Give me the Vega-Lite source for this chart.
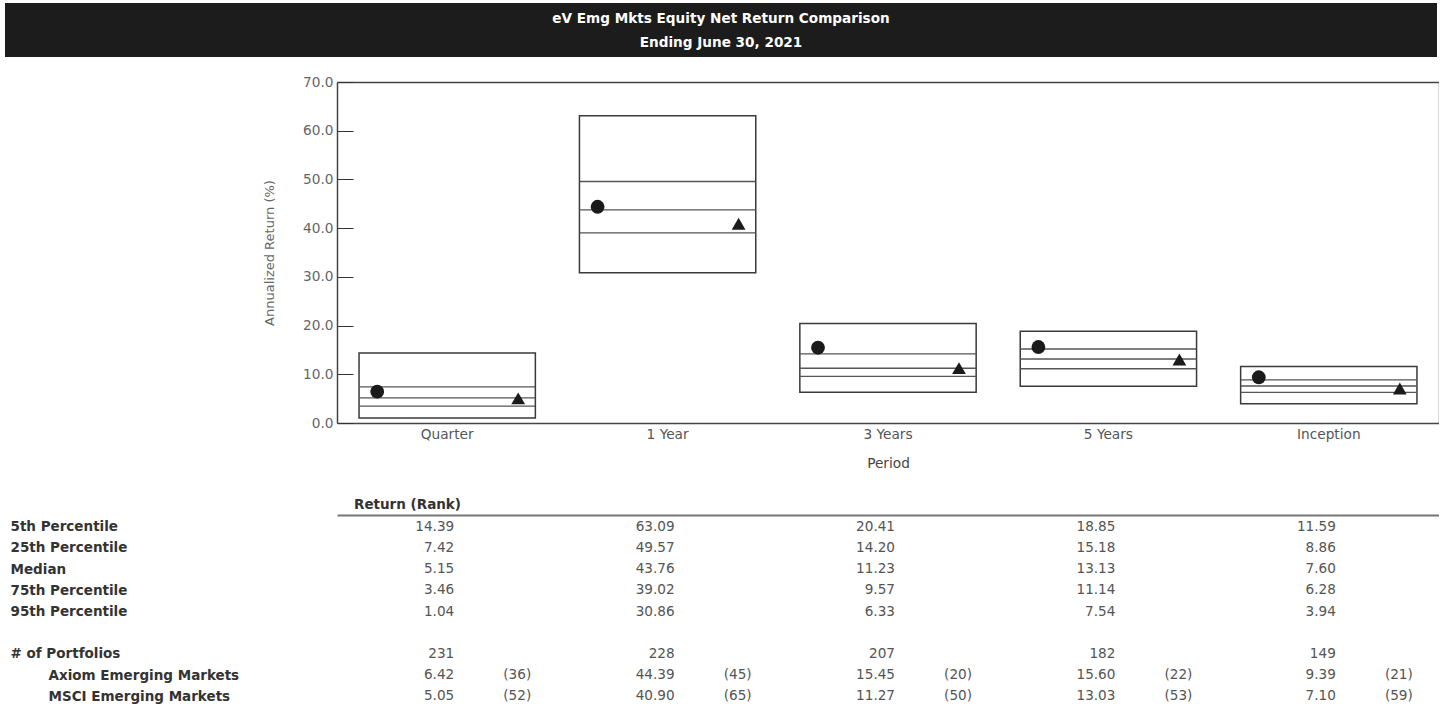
{
  "$schema": "https://vega.github.io/schema/vega-lite/v6.json",
  "padding": {"left": 5, "top": 3, "right": 0, "bottom": 0},
  "background": "white",
  "spacing": 18,
  "config": {
    "view": {"stroke": null},
    "axis": {"grid": false},
    "font": "DejaVu Sans"
  },
  "datasets": {
    "periods": [
      {"Period": "Quarter", "5th Percentile": 14.39, "25th Percentile": 7.42, "Median": 5.15, "75th Percentile": 3.46, "95th Percentile": 1.04, "# of Portfolios": 231, "Axiom Emerging Markets": 6.42, "Axiom Rank": 36, "MSCI Emerging Markets": 5.05, "MSCI Rank": 52},
      {"Period": "1 Year", "5th Percentile": 63.09, "25th Percentile": 49.57, "Median": 43.76, "75th Percentile": 39.02, "95th Percentile": 30.86, "# of Portfolios": 228, "Axiom Emerging Markets": 44.39, "Axiom Rank": 45, "MSCI Emerging Markets": 40.90, "MSCI Rank": 65},
      {"Period": "3 Years", "5th Percentile": 20.41, "25th Percentile": 14.20, "Median": 11.23, "75th Percentile": 9.57, "95th Percentile": 6.33, "# of Portfolios": 207, "Axiom Emerging Markets": 15.45, "Axiom Rank": 20, "MSCI Emerging Markets": 11.27, "MSCI Rank": 50},
      {"Period": "5 Years", "5th Percentile": 18.85, "25th Percentile": 15.18, "Median": 13.13, "75th Percentile": 11.14, "95th Percentile": 7.54, "# of Portfolios": 182, "Axiom Emerging Markets": 15.60, "Axiom Rank": 22, "MSCI Emerging Markets": 13.03, "MSCI Rank": 53},
      {"Period": "Inception", "5th Percentile": 11.59, "25th Percentile": 8.86, "Median": 7.60, "75th Percentile": 6.28, "95th Percentile": 3.94, "# of Portfolios": 149, "Axiom Emerging Markets": 9.39, "Axiom Rank": 21, "MSCI Emerging Markets": 7.10, "MSCI Rank": 59}
    ]
  },
  "vconcat": [
    {
      "width": 1432,
      "height": 54,
      "view": {"fill": "#1c1c1c", "stroke": null},
      "data": {"values": [{}]},
      "mark": {
        "type": "text",
        "text": ["eV Emg Mkts Equity Net Return Comparison", "Ending June 30, 2021"],
        "lineHeight": 24,
        "dy": -11,
        "font": "DejaVu Sans",
        "fontWeight": "bold",
        "fontSize": 13.6,
        "color": "white",
        "align": "center",
        "baseline": "middle"
      },
      "encoding": {}
    },
    {
      "width": 1434,
      "height": 341,
      "data": {"name": "periods"},
      "resolve": {"axis": {"x": "independent", "y": "independent"}},
      "layer": [
        {
          "mark": {"type": "bar", "fill": "white", "stroke": "#3a3a3a", "strokeWidth": 1.5},
          "encoding": {
            "x": {
              "field": "Period", "type": "nominal",
              "scale": {"domain": ["Quarter", "1 Year", "3 Years", "5 Years", "Inception"], "range": [332, 1434], "paddingInner": 0.2, "paddingOuter": 0.1},
              "axis": {
                "orient": "bottom", "ticks": false, "labelPadding": 4, "labelAngle": 0,
                "labelFont": "DejaVu Sans", "labelFontSize": 13.7, "labelColor": "#555",
                "domain": true, "domainColor": "#444", "domainWidth": 1.5,
                "title": "Period", "titleFont": "DejaVu Sans", "titleFontSize": 13.7, "titleFontWeight": "normal",
                "titleColor": "#444", "titleY": 40.5, "titleBaseline": "middle"
              }
            },
            "y": {
              "field": "95th Percentile", "type": "quantitative",
              "scale": {"domain": [0, 70], "nice": false},
              "axis": {
                "orient": "left", "offset": -332, "values": [0, 10, 20, 30, 40, 50, 60, 70], "format": ".1f",
                "tickSize": -16, "tickColor": "#333", "tickWidth": 1, "labelPadding": 20,
                "labelFont": "DejaVu Sans", "labelFontSize": 13.7, "labelColor": "#666",
                "domain": true, "domainColor": "#444", "domainWidth": 1.5,
                "title": "Annualized Return (%)", "titleFont": "DejaVu Sans", "titleFontSize": 13,
                "titleFontWeight": "normal", "titleColor": "#666", "titleX": -68, "titleY": 170.5,
                "titleAngle": -90, "titleAlign": "center", "titleBaseline": "middle"
              }
            },
            "y2": {"field": "5th Percentile"}
          }
        },
        {
          "transform": [{"fold": ["25th Percentile", "Median", "75th Percentile"], "as": ["pct", "val"]}],
          "mark": {"type": "tick", "size": 176, "thickness": 1.4, "color": "#555", "opacity": 1},
          "encoding": {
            "x": {
              "field": "Period", "type": "nominal",
              "axis": {"orient": "top", "labels": false, "ticks": false, "domain": true, "domainColor": "#444", "domainWidth": 1.5, "title": null}
            },
            "y": {
              "field": "val", "type": "quantitative",
              "axis": {"orient": "right", "labels": false, "ticks": false, "domain": true, "domainColor": "#666", "domainWidth": 1.5, "title": null}
            }
          }
        },
        {
          "mark": {"type": "point", "shape": "circle", "filled": true, "size": 190, "color": "#1a1a1a", "opacity": 1, "xOffset": -70},
          "encoding": {
            "x": {"field": "Period", "type": "nominal", "axis": null},
            "y": {"field": "Axiom Emerging Markets", "type": "quantitative", "axis": null}
          }
        },
        {
          "mark": {"type": "point", "shape": "triangle-up", "filled": true, "size": 190, "color": "#1a1a1a", "opacity": 1, "xOffset": 71},
          "encoding": {
            "x": {"field": "Period", "type": "nominal", "axis": null},
            "y": {"field": "MSCI Emerging Markets", "type": "quantitative", "axis": null}
          }
        }
      ]
    },
    {
      "width": 1434,
      "height": 193,
      "data": {"name": "periods"},
      "layer": [
        {
          "transform": [{"fold": ["5th Percentile", "25th Percentile", "Median", "75th Percentile", "95th Percentile", "Axiom Emerging Markets", "MSCI Emerging Markets"], "as": ["row", "val"]}],
          "mark": {"type": "text", "align": "right", "dx": 7, "baseline": "middle", "font": "DejaVu Sans", "fontSize": 13.6, "color": "#555"},
          "encoding": {
            "x": {
              "field": "Period", "type": "nominal",
              "scale": {"domain": ["Quarter", "1 Year", "3 Years", "5 Years", "Inception"], "range": [332, 1434], "paddingInner": 0.2, "paddingOuter": 0.1},
              "axis": {
                "orient": "top", "labels": false, "ticks": true, "tickSize": 25, "tickColor": "transparent",
                "domain": true, "domainColor": "#777", "domainWidth": 2,
                "title": "Return (Rank)", "titleX": 348.5, "titleY": -11, "titleAlign": "left", "titleAnchor": "start",
                "titleAngle": 0, "titleBaseline": "middle", "titleFont": "DejaVu Sans", "titleFontSize": 13.5,
                "titleFontWeight": "bold", "titleColor": "#333"
              }
            },
            "y": {
              "field": "row", "type": "nominal",
              "scale": {"type": "point", "padding": 0.55, "domain": ["5th Percentile", "25th Percentile", "Median", "75th Percentile", "95th Percentile", " ", "# of Portfolios", "Axiom Emerging Markets", "MSCI Emerging Markets"]},
              "axis": {
                "orient": "left", "labelAlign": "left", "labelBaseline": "middle",
                "labelPadding": {"condition": {"test": "indexof(['Axiom Emerging Markets','MSCI Emerging Markets'], datum.value) >= 0", "value": -43}, "value": -5},
                "ticks": false, "tickSize": 0, "domain": false,
                "labelFont": "DejaVu Sans", "labelFontWeight": "bold", "labelFontSize": 13.5, "labelColor": "#333",
                "labelLimit": 400, "title": null
              }
            },
            "text": {"field": "val", "type": "quantitative", "format": ".2f"}
          }
        },
        {
          "mark": {"type": "text", "align": "right", "dx": 7, "baseline": "middle", "font": "DejaVu Sans", "fontSize": 13.6, "color": "#555"},
          "encoding": {
            "x": {"field": "Period", "type": "nominal"},
            "y": {"datum": "# of Portfolios", "type": "nominal"},
            "text": {"field": "# of Portfolios", "type": "quantitative", "format": "d"}
          }
        },
        {
          "mark": {"type": "text", "align": "right", "dx": 84, "baseline": "middle", "font": "DejaVu Sans", "fontSize": 13.6, "color": "#555", "text": {"expr": "'(' + datum['Axiom Rank'] + ')'"}},
          "encoding": {
            "x": {"field": "Period", "type": "nominal"},
            "y": {"datum": "Axiom Emerging Markets", "type": "nominal"}
          }
        },
        {
          "mark": {"type": "text", "align": "right", "dx": 84, "baseline": "middle", "font": "DejaVu Sans", "fontSize": 13.6, "color": "#555", "text": {"expr": "'(' + datum['MSCI Rank'] + ')'"}},
          "encoding": {
            "x": {"field": "Period", "type": "nominal"},
            "y": {"datum": "MSCI Emerging Markets", "type": "nominal"}
          }
        }
      ]
    }
  ]
}
